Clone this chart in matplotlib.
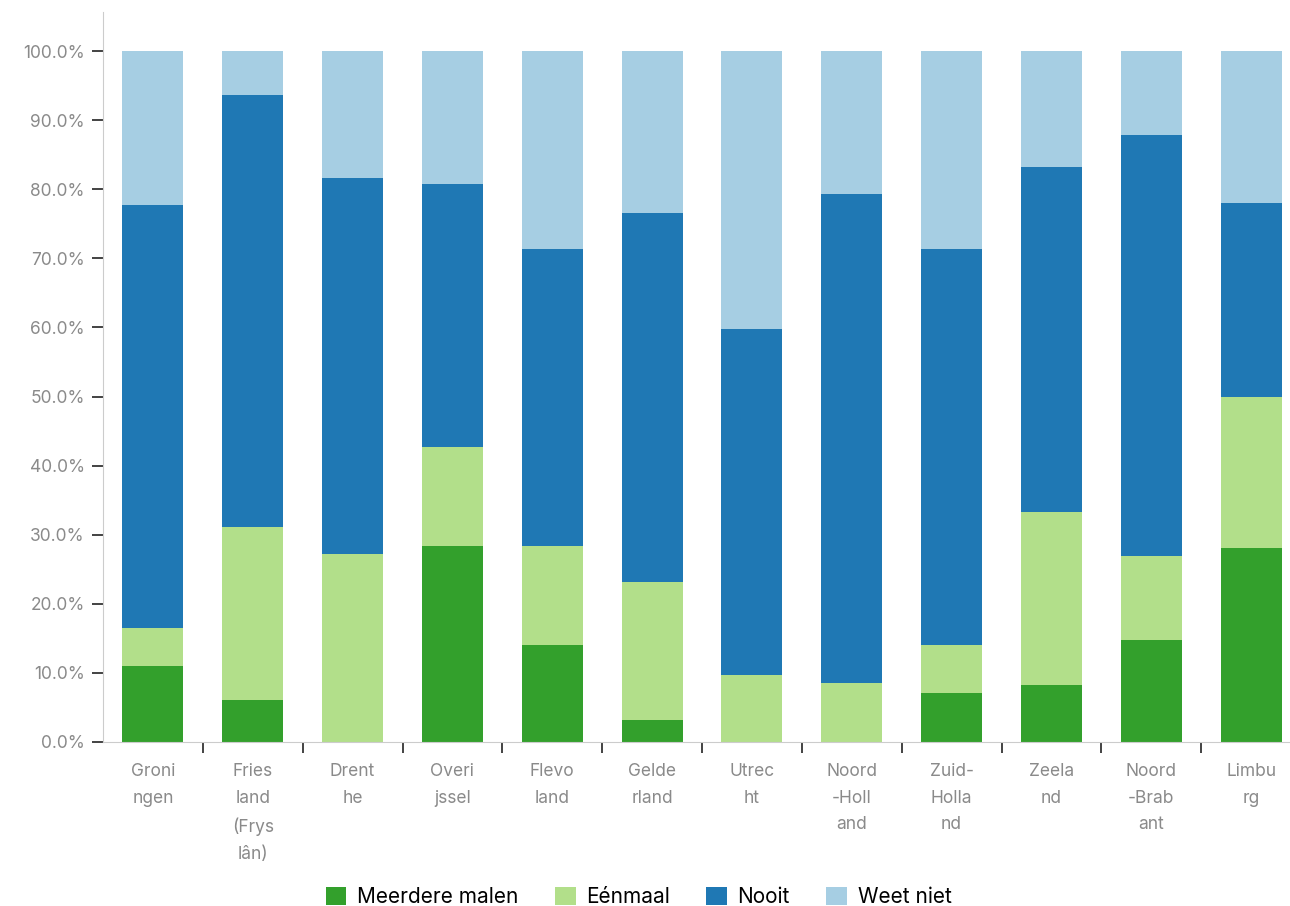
import matplotlib.pyplot as plt
import numpy as np

plt.rcParams['font.family'] = ['Inter', 'DejaVu Sans']

# provinces (labels wrapped as in the original)
provinces = [
    "Groni\nngen", "Fries\nland\n(Frys\nlân)", "Drent\nhe", "Overi\njssel",
    "Flevo\nland", "Gelde\nrland", "Utrec\nht", "Noord\n-Holl\nand",
    "Zuid-\nHolla\nnd", "Zeela\nnd", "Noord\n-Brab\nant", "Limbu\nrg",
]

# percentages per answer
meerdere = [11.0, 6.1, 0.0, 28.4, 14.0, 3.2, 0.0, 0.0, 7.1, 8.2, 14.8, 28.1]
eenmaal = [5.5, 25.0, 27.2, 14.3, 14.4, 20.0, 9.7, 8.5, 6.9, 25.1, 12.1, 21.8]
nooit = [61.2, 62.5, 54.4, 38.1, 42.9, 53.4, 50.1, 70.8, 57.3, 49.9, 60.9, 28.1]
weet_niet = [22.3, 6.4, 18.4, 19.2, 28.7, 23.4, 40.2, 20.7, 28.7, 16.8, 12.2, 22.0]

series = [
    ("Meerdere malen", meerdere, "#33a02c"),
    ("Eénmaal", eenmaal, "#b2df8a"),
    ("Nooit", nooit, "#1f78b4"),
    ("Weet niet", weet_niet, "#a6cee3"),
]

fig = plt.figure(figsize=(12.9, 9.06), dpi=100)
ax = fig.add_axes([103 / 1290, (906 - 742) / 906, (1301 - 103) / 1290, (742 - 12) / 906])

x = np.arange(len(provinces))
bottom = np.zeros(len(provinces))
for name, vals, col in series:
    vals = np.array(vals)
    ax.bar(x, vals, 0.61, bottom=bottom, color=col, label=name)
    bottom += vals

ax.set_xlim(-0.5, 11.5)
ax.set_ylim(0, 100 + 39 / 6.91)

ax.set_yticks(np.arange(0, 101, 10))
ax.set_yticklabels([f"{v:.1f}%" for v in np.arange(0, 101, 10)])
ax.set_xticks(x + 0.5, minor=False)
ax.set_xticklabels([])
ax.set_xticks(x, minor=True)
ax.set_xticklabels(provinces, minor=True, linespacing=1.75, va="top")

ax.tick_params(axis="y", length=8, width=1.2, color="#222222", labelcolor="#8a8a8a",
               labelsize=12.5, pad=5)
ax.tick_params(axis="x", which="major", length=8, width=1.2, color="#222222", direction="out")
ax.tick_params(axis="x", which="minor", length=0, labelcolor="#8a8a8a", labelsize=12.5, pad=15)

for s in ["top", "right"]:
    ax.spines[s].set_visible(False)
ax.spines["left"].set_color("#cccccc")
ax.spines["bottom"].set_color("#cccccc")

fig.legend(loc="lower center", bbox_to_anchor=(0.495, -0.022), ncol=4, frameon=False,
           fontsize=15, handlelength=1.0, handleheight=1.0, handletextpad=0.5,
           columnspacing=1.75)

fig.savefig("out.png", dpi=100)
